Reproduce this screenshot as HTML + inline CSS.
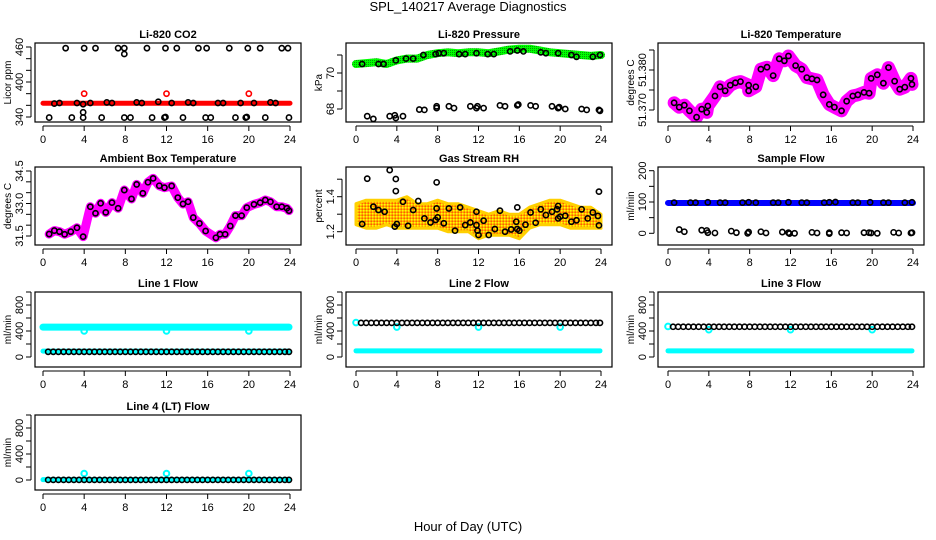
<!DOCTYPE html>
<html><head><meta charset="utf-8"><style>
html,body{margin:0;padding:0;background:#fff}
svg{display:block;font-family:"Liberation Sans",Arial,sans-serif}
</style></head><body>
<svg id="chart" width="936" height="540" viewBox="0 0 936 540">
<defs>
<pattern id="rhpat" width="3" height="3" patternUnits="userSpaceOnUse"><rect width="3" height="3" fill="#ffb000"/><rect width="1.5" height="1.5" fill="#ffff00"/><rect x="1.5" y="1.5" width="1.5" height="1.5" fill="#ff6000"/></pattern>
<pattern id="grpat" width="2" height="2" patternUnits="userSpaceOnUse"><rect width="2" height="2" fill="#00ff00"/><rect width="1" height="1" fill="#00a000"/></pattern>
</defs>
<text x="468" y="11" text-anchor="middle" font-size="13">SPL_140217  Average Diagnostics</text>
<text x="468" y="531" text-anchor="middle" font-size="13">Hour of Day (UTC)</text>
</svg>
<script>
// ---------- data ----------
const xTicks = [0,4,8,12,16,20,24];
// CO2
const co2HighHours = [2.2,4,5.1,7.3,7.9,10.1,11.9,13,15.1,15.9,18.1,19.9,21.1,23.2,23.8];
const co2HighVals = [458,458,458,458,458,458,458,458,458,458,458,458,458,458,458];
const co2OutHours = [7.9,3.9];
const co2OutVals = [448,348];
const co2LowHours = [0.6,2.8,3.9,5.7,7.9,8.5,10.6,11.8,11.9,13.6,15.8,16.3,18.7,19.7,19.8,21.6,23.9];
const co2LowVals = [339,339,339,339,339,339,339,339,340,339,339,339,339,339,340,339,339];
const co2MidHours = [1.1,1.6,3.3,3.9,4.6,6.2,6.7,9.1,9.6,11.2,12.5,14.1,14.6,17.0,17.5,19.2,20.5,22.1,22.6];
const co2MidVals = [363,364,364,362,364,365,364,365,364,366,364,365,364,364,364,364,364,365,364];
const co2RedHours = [0,24];
const co2RedVals = [363.5,363.5];
const co2RedPkHours = [4,12,20];
const co2RedPkVals = [380,380,380];
// Pressure
const presBandHours = [0,1,2,3,4,5,6,7,8,9,10,11,12,13,14,15,16,17,18,19,20,21,22,23,24];
const presBandVals = [70.5,70.55,70.6,70.5,70.7,70.8,70.8,71.0,71.1,71.15,71.1,71.15,71.15,71.1,71.2,71.3,71.35,71.35,71.25,71.15,71.1,71.05,71.0,70.95,71.0];
const presHighHours = [0.6,2.2,2.7,3.9,4.9,5.6,6.6,7.8,8.1,8.6,10.1,10.7,11.8,12.9,13.5,15.1,15.8,16.4,18.1,18.6,19.8,21.1,21.6,23.2,23.9];
const presHighVals = [70.5,70.5,70.5,70.7,70.8,70.8,71.0,71.05,71.1,71.1,71.05,71.05,71.1,71.05,71.05,71.2,71.25,71.2,71.15,71.1,71.1,71.0,70.9,70.9,71.0];
const presLowHours = [1.1,1.7,3.3,3.8,3.9,4.6,6.2,6.7,7.9,7.9,9.1,9.6,11.2,11.8,11.9,12.5,14.1,14.6,15.8,15.9,17.1,17.6,19.2,19.8,19.9,20.5,22.1,22.6,23.8,23.9];
const presLowVals = [67.6,67.45,67.6,67.65,67.5,67.6,67.97,67.95,68.05,68.15,68.15,68.05,68.15,68.05,68.15,68.05,68.2,68.15,68.2,68.25,68.2,68.15,68.15,68.05,68.1,68.0,68.0,67.95,67.95,67.9];
// Li-820 temperature
const ltHours = [0.6,1.1,1.6,2.1,2.8,3.3,3.8,3.9,4.6,5.1,5.6,6.1,6.6,7.1,7.9,7.9,8.6,9.1,9.7,10.3,10.9,11.4,11.8,12.5,13.1,13.6,14.1,14.6,15.2,15.8,16.3,17.0,17.5,18.1,18.6,19.2,19.7,19.9,20.5,21.1,21.6,22.2,22.7,23.2,23.8,23.9];
const ltVals = [51.3718,51.3707,51.3712,51.3698,51.3682,51.3702,51.3694,51.3710,51.3735,51.3758,51.3748,51.3762,51.3768,51.3771,51.3762,51.3748,51.3758,51.3802,51.3807,51.3786,51.3828,51.3823,51.3835,51.3811,51.3802,51.3781,51.3778,51.3775,51.3738,51.3714,51.3707,51.3698,51.3722,51.3735,51.3738,51.3744,51.3742,51.3779,51.3788,51.3767,51.3806,51.3772,51.3752,51.3757,51.3779,51.3764];
// Ambient box temperature
const abHours = [0.6,1.1,1.6,2.1,2.7,3.3,3.9,4.6,5.1,5.6,6.1,6.7,7.3,7.9,8.6,9.1,9.7,10.2,10.7,11.3,11.8,12.5,13.1,13.6,14.1,14.6,15.2,15.8,16.8,17.2,17.7,18.2,18.7,19.3,19.8,20.5,21.1,21.6,22.1,22.7,23.2,23.7,23.9];
const abVals = [31.59,31.75,31.70,31.58,31.70,31.88,31.47,32.85,32.55,33.01,32.59,33.04,32.78,33.62,33.21,33.88,33.47,33.98,34.16,33.82,33.73,33.81,33.27,32.98,33.08,32.35,32.08,31.73,31.42,31.58,31.58,31.96,32.44,32.44,32.81,32.96,33.04,33.16,33.08,32.85,32.85,32.78,32.67];
// Gas stream RH
const rhHours = [0.6,1.1,1.7,2.2,2.8,3.3,3.8,3.9,3.9,4.0,4.6,5.1,5.6,6.1,6.7,7.3,7.8,7.9,7.9,8.0,8.6,9.1,9.7,10.2,10.7,11.2,11.8,11.8,11.9,12.0,12.5,13.0,13.6,14.1,14.6,15.2,15.7,15.8,15.8,16.0,16.6,17.1,17.6,18.1,18.6,19.2,19.7,19.8,19.8,20.0,20.5,21.1,21.6,22.1,22.7,23.2,23.7,23.8,23.8];
const rhVals = [1.244,1.503,1.343,1.324,1.314,1.552,1.229,1.501,1.432,1.244,1.371,1.234,1.324,1.375,1.276,1.253,1.267,1.333,1.482,1.282,1.248,1.333,1.206,1.339,1.238,1.253,1.314,1.238,1.206,1.181,1.263,1.181,1.215,1.320,1.200,1.213,1.257,1.215,1.339,1.206,1.240,1.310,1.251,1.328,1.295,1.314,1.328,1.347,1.276,1.286,1.291,1.257,1.265,1.328,1.276,1.310,1.290,1.236,1.429];
const rhBandHours = [0,1,2,3,4,5,6,7,8,9,10,11,12,13,14,15,16,17,18,19,20,21,22,23,24];
const rhBandUpper = [1.36,1.38,1.38,1.38,1.38,1.40,1.36,1.36,1.38,1.36,1.36,1.34,1.32,1.30,1.32,1.30,1.30,1.34,1.36,1.38,1.38,1.36,1.34,1.34,1.30];
const rhBandLower = [1.24,1.22,1.22,1.24,1.22,1.22,1.22,1.22,1.22,1.20,1.20,1.20,1.16,1.18,1.18,1.18,1.16,1.22,1.24,1.24,1.24,1.22,1.22,1.22,1.22];
// Sample flow
const sfBandHours = [0,24];
const sfBandVals = [97,97];
const sfHighHours = [0.6,2.2,2.7,3.9,5.1,5.6,7.3,7.9,8.6,10.3,10.8,11.8,13.1,13.6,15.3,15.8,16.4,18.1,18.6,19.8,21.1,21.6,23.2,23.9];
const sfHighVals = [98,98,98,99,98,98,98,99,98,98,98,99,98,98,98,99,100,98,98,99,98,98,98,99];
const sfLowHours = [1.1,1.6,3.3,3.8,3.9,4.6,6.2,6.7,7.8,7.9,9.1,9.6,11.2,11.8,11.9,12.4,14.1,14.6,15.8,15.8,17.0,17.5,19.2,19.7,19.9,20.5,22.1,22.6,23.8,23.9];
const sfLowVals = [12,5,10,9,2,1,7,2,0,4,5,1,4,2,-1,0,3,1,-1,2,2,1,2,2,1,0,3,1,1,2];
// Line flows
const flowHours = [0.5,1,1.5,2,2.5,3,3.5,4,4.5,5,5.5,6,6.5,7,7.5,8,8.5,9,9.5,10,10.5,11,11.5,12,12.5,13,13.5,14,14.5,15,15.5,16,16.5,17,17.5,18,18.5,19,19.5,20,20.5,21,21.5,22,22.5,23,23.5,23.9];
const line1Black = [80,80,80,80,80,80,80,80,80,80,80,80,80,80,80,80,80,80,80,80,80,80,80,80,80,80,80,80,80,80,80,80,80,80,80,80,80,80,80,80,80,80,80,80,80,80,80,80];
const line2Black = [525,525,525,525,525,525,525,525,525,525,525,525,525,525,525,525,525,525,525,525,525,525,525,525,525,525,525,525,525,525,525,525,525,525,525,525,525,525,525,525,525,525,525,525,525,525,525,525];
const line3Black = [465,465,465,465,465,465,465,465,465,465,465,465,465,465,465,465,465,465,465,465,465,465,465,465,465,465,465,465,465,465,465,465,465,465,465,465,465,465,465,465,465,465,465,465,465,465,465,465];
const line4Black = [2,2,2,2,2,2,2,2,2,2,2,2,2,2,2,2,2,2,2,2,2,2,2,2,2,2,2,2,2,2,2,2,2,2,2,2,2,2,2,2,2,2,2,2,2,2,2,2];
const cyanBandHours = [0,23.9];
const line1CyanHi = [460,460];
const line1CyanLo = [90,90];
const line2CyanLo = [95,95];
const line3CyanLo = [95,95];
const line4CyanLo = [5,5];
const cyanEventHours = [4,12,20];
const line1CyanEvent = [400,400,400];
const line2CyanEvent = [460,460,460];
const line3CyanEvent = [420,420,420];
const line4CyanEvent = [100,100,100];
const cyanStartHours = [0];
const line2CyanStart = [530];
const line3CyanStart = [470];

// ---------- layout ----------
const NS = 'http://www.w3.org/2000/svg';
const svg = document.getElementById('chart');
const cols = [{bl:35,br:301,x0:43,x24:290},{bl:346,br:612,x0:356,x24:601},{bl:658,br:924,x0:668,x24:913}];
const rows = [{t:43,b:122},{t:167,b:245},{t:292,b:367},{t:415,b:490}];

function mk(tag, attrs, parent){
  const e = document.createElementNS(NS, tag);
  for (const k in attrs) e.setAttribute(k, attrs[k]);
  (parent||svg).appendChild(e);
  return e;
}

function makePanel(name, title, ylab, col, row, v1, p1, v2, p2, yTicks, yLabels, fmt){
  const c = cols[col], r = rows[row];
  const g = mk('g', {});
  
  
  const xs = h => c.x0 + h * (c.x24 - c.x0) / 24;
  const ys = v => p1 + (v - v1) * (p2 - p1) / (v2 - v1);
  const clip = mk('clipPath', {id: name + '-clip'}, g);
  mk('rect', {x:c.bl, y:r.t, width:c.br-c.bl, height:r.b-r.t}, clip);
  const plot = mk('g', {'clip-path': 'url(#' + name + '-clip)'}, g);
  
  
  const box = mk('rect', {x:c.bl, y:r.t, width:c.br-c.bl, height:r.b-r.t, fill:'none', stroke:'#000', 'stroke-width':1.2}, g);
  
  
  const t = mk('text', {x:(c.bl+c.br)/2, y:r.t-5, 'text-anchor':'middle', 'font-size':11, 'font-weight':'bold'}, g);
  t.textContent = title;
  
  
  mk('line', {x1:xs(0), x2:xs(24), y1:r.b+4, y2:r.b+4, stroke:'#000'}, g);
  xTicks.forEach(h => {
    mk('line', {x1:xs(h), x2:xs(h), y1:r.b+4, y2:r.b+9, stroke:'#000'}, g);
    const tl = mk('text', {x:xs(h), y:r.b+21, 'text-anchor':'middle', 'font-size':11}, g);
    tl.textContent = h;
    
    
  });
  const yt0 = ys(yTicks[0]), yt1 = ys(yTicks[yTicks.length-1]);
  mk('line', {x1:c.bl-4, x2:c.bl-4, y1:Math.max(Math.min(yt0,yt1), r.t-4), y2:Math.min(Math.max(yt0,yt1), r.b+4), stroke:'#000'}, g);
  yTicks.forEach(v => {
    mk('line', {x1:c.bl-9, x2:c.bl-4, y1:ys(v), y2:ys(v), stroke:'#000'}, g);
  });
  yLabels.forEach(v => {
    const yl = mk('text', {x:0, y:0, 'text-anchor':'middle', 'font-size':11, transform:'translate(' + (c.bl-12) + ',' + ys(v) + ') rotate(-90)'}, g);
    yl.textContent = fmt ? fmt(v) : v;
    
    
  });
  const yt = mk('text', {x:0, y:0, 'text-anchor':'middle', 'font-size':10, transform:'translate(' + (c.bl-24) + ',' + ((r.t+r.b)/2) + ') rotate(-90)'}, g);
  yt.textContent = ylab;
  
  
  return {g: plot, xs, ys};
}

function points(P, name, hours, vals, color, r, sw){
  hours.forEach((h, i) => {
    const e = mk('circle', {cx:P.xs(h), cy:P.ys(vals[i]), r:r||2.6, fill:'none', stroke:color, 'stroke-width':sw||1.6}, P.g);
    
    
  });
}
function band(P, name, hours, vals, color, w){
  const pts = hours.map((h,i) => P.xs(h) + ',' + P.ys(vals[i])).join(' ');
  const e = mk('polyline', {points:pts, fill:'none', stroke:color, 'stroke-width':w, 'stroke-linejoin':'round', 'stroke-linecap':'round'}, P.g);
  
  
}

let P = makePanel('co2', 'Li-820 CO2', 'Licor ppm', 0, 0, 340, 117, 460, 47, [340,360,380,400,420,440,460], [340,400,460]);
band(P, 'co2-red-band', co2RedHours, co2RedVals, '#ff0000', 5);
points(P, 'co2-red-peak', co2RedPkHours, co2RedPkVals, '#ff0000');
points(P, 'co2-high-point', co2HighHours, co2HighVals, '#000');
points(P, 'co2-outlier-point', co2OutHours, co2OutVals, '#000');
points(P, 'co2-low-point', co2LowHours, co2LowVals, '#000');
points(P, 'co2-mid-point', co2MidHours, co2MidVals, '#000');

P = makePanel('pressure', 'Li-820 Pressure', 'kPa', 1, 0, 68, 109, 70, 73, [68,69,70,71], [68,70]);
band(P, 'pressure-green-band', presBandHours, presBandVals, 'url(#grpat)', 8);
points(P, 'pressure-high-point', presHighHours, presHighVals, '#000');
points(P, 'pressure-low-point', presLowHours, presLowVals, '#000');

P = makePanel('li-temp', 'Li-820 Temperature', 'degrees C', 2, 0, 51.370, 110, 51.380, 70, [51.370,51.375,51.380,51.385], [51.370,51.380], v => v.toFixed(3));
band(P, 'li-temp-magenta-band', ltHours, ltVals, '#ff00ff', 13);
points(P, 'li-temp-point', ltHours, ltVals, '#000');

P = makePanel('ambient', 'Ambient Box Temperature', 'degrees C', 0, 1, 31.5, 236, 34.5, 171, [31.5,32.0,32.5,33.0,33.5,34.0,34.5], [31.5,33.0,34.5], v => v.toFixed(1));
band(P, 'ambient-magenta-band', abHours, abVals, '#ff00ff', 9);
points(P, 'ambient-point', abHours, abVals, '#000');

P = makePanel('rh', 'Gas Stream RH', 'percent', 1, 1, 1.2, 231.7, 1.4, 196.7, [1.2,1.3,1.4,1.5], [1.2,1.4], v => v.toFixed(1));
{
  const up = rhBandHours.map((h,i) => P.xs(h) + ',' + P.ys(rhBandUpper[i]));
  const lo = rhBandHours.map((h,i) => P.xs(h) + ',' + P.ys(rhBandLower[i])).reverse();
  const e = mk('polygon', {points: up.concat(lo).join(' '), fill:'url(#rhpat)', stroke:'#ffd000', 'stroke-width':3, 'stroke-linejoin':'round'}, P.g);
  
  
}
points(P, 'rh-point', rhHours, rhVals, '#000');

P = makePanel('sample-flow', 'Sample Flow', 'ml/min', 2, 1, 0, 233.3, 200, 170.7, [0,50,100,150,200], [0,100,200]);
band(P, 'sample-flow-blue-band', sfBandHours, sfBandVals, '#0000ff', 6);
points(P, 'sample-flow-high-point', sfHighHours, sfHighVals, '#000');
points(P, 'sample-flow-low-point', sfLowHours, sfLowVals, '#000');

const fTicks = [0,200,400,600,800,1000], fLabels = [0,400,800];
P = makePanel('line1', 'Line 1 Flow', 'ml/min', 0, 2, 0, 357, 800, 305, fTicks, fLabels);
band(P, 'line1-cyan-high-band', cyanBandHours, line1CyanHi, '#00ffff', 7);
band(P, 'line1-cyan-low-band', cyanBandHours, line1CyanLo, '#00ffff', 5);
points(P, 'line1-cyan-event', cyanEventHours, line1CyanEvent, '#00ffff', 2.8, 2);
points(P, 'line1-black-point', flowHours, line1Black, '#000');
P = makePanel('line2', 'Line 2 Flow', 'ml/min', 1, 2, 0, 357, 800, 305, fTicks, fLabels);
band(P, 'line2-cyan-low-band', cyanBandHours, line2CyanLo, '#00ffff', 5);
points(P, 'line2-cyan-event', cyanEventHours, line2CyanEvent, '#00ffff', 2.8, 2);
points(P, 'line2-cyan-start', cyanStartHours, line2CyanStart, '#00ffff', 2.8, 2);
points(P, 'line2-black-point', flowHours, line2Black, '#000');
P = makePanel('line3', 'Line 3 Flow', 'ml/min', 2, 2, 0, 357, 800, 305, fTicks, fLabels);
band(P, 'line3-cyan-low-band', cyanBandHours, line3CyanLo, '#00ffff', 5);
points(P, 'line3-cyan-event', cyanEventHours, line3CyanEvent, '#00ffff', 2.8, 2);
points(P, 'line3-cyan-start', cyanStartHours, line3CyanStart, '#00ffff', 2.8, 2);
points(P, 'line3-black-point', flowHours, line3Black, '#000');
P = makePanel('line4', 'Line 4 (LT) Flow', 'ml/min', 0, 3, 0, 480, 800, 428, fTicks, fLabels);
band(P, 'line4-cyan-low-band', cyanBandHours, line4CyanLo, '#00ffff', 5);
points(P, 'line4-cyan-event', cyanEventHours, line4CyanEvent, '#00ffff', 2.8, 2);
points(P, 'line4-black-point', flowHours, line4Black, '#000');
</script>
</body></html>
